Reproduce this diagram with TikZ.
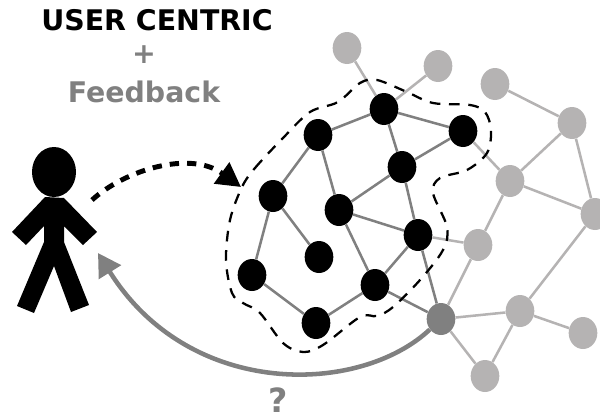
\documentclass[tikz,border=0pt]{standalone}
\usepackage{fontspec}
\setmainfont{DejaVu Sans}
\usetikzlibrary{shapes.geometric,arrows.meta}
\definecolor{midgray}{HTML}{808080}
\definecolor{lightgray}{HTML}{B5B3B3}
\tikzset{
  x=0.75pt,y=-0.75pt,
  basenode/.style={ellipse,minimum width=21.5pt,minimum height=24pt,inner sep=0pt,draw=none},
  blacknode/.style={basenode,fill=black},
  lightnode/.style={basenode,fill=lightgray},
  darknode/.style={basenode,fill=midgray},
  darkedge/.style={draw=midgray,line width=1.9pt},
  lightedge/.style={draw=lightgray,line width=1.9pt},
  titletext/.style={font=\bfseries\fontsize{21.3pt}{23pt}\selectfont,inner sep=0pt},
  marktext/.style={font=\bfseries\fontsize{25pt}{27pt}\selectfont,inner sep=0pt},
}
\begin{document}
\begin{tikzpicture}
\useasboundingbox (0,0) rectangle (600,418);
% titles
\node[titletext,text=black] (t1) at (157,20) {USER CENTRIC};
\node[titletext,text=midgray] (t2) at (144,55) {+};
\node[titletext,text=midgray] (t3) at (144,92) {Feedback};
\node[marktext,text=midgray] (t4) at (278,400) {?};
% person
\fill[black] (54,172) ellipse [x radius=22,y radius=25];
\fill[black] (45,197) -- (12,232) -- (26,245) -- (44,226) -- (44,242) -- (17,306) -- (34,313) -- (54,266) -- (71,312) -- (89,305) -- (64,242) -- (64,226) -- (83,245) -- (97,232) -- (64,198) -- cycle;
% nodes
\node[blacknode] (a) at (384,109) {};
\node[blacknode] (b) at (318,135) {};
\node[blacknode] (c) at (463,131) {};
\node[blacknode] (d) at (402,167) {};
\node[blacknode] (e) at (273,196) {};
\node[blacknode] (f) at (339,210) {};
\node[blacknode] (g) at (418,235) {};
\node[blacknode] (h) at (319,257) {};
\node[blacknode] (i) at (252,275) {};
\node[blacknode] (j) at (375,285) {};
\node[blacknode] (k) at (316,323) {};
\node[lightnode] (l1) at (347,48) {};
\node[lightnode] (l2) at (438,66) {};
\node[lightnode] (l3) at (495,84) {};
\node[lightnode] (l4) at (572,123) {};
\node[lightnode] (l5) at (510,181) {};
\node[lightnode] (l6) at (595,214) {};
\node[lightnode] (l7) at (478,245) {};
\node[lightnode] (l8) at (520,311) {};
\node[lightnode] (l9) at (583,333) {};
\node[lightnode] (l10) at (485,376) {};
\node[darknode] (m) at (441,319) {};
% edges
\foreach \p/\q in {a/l1,a/l2,c/l5,g/l7,l3/l4,l4/l5,l4/l6,l5/l6,l5/l7,l7/m,l6/l8,m/l8,l8/l9,l8/l10,m/l10}
  \draw[lightedge] (\p) -- (\q);
\foreach \p/\q in {a/b,a/c,a/d,c/d,b/e,b/f,d/f,d/g,f/g,f/j,e/h,e/i,i/k,k/j,j/g,j/m,g/m}
  \draw[darkedge] (\p) -- (\q);
% dashed contour
\draw[black,line width=1.7pt,dash pattern=on 8pt off 6.5pt] plot[smooth cycle,tension=0.55] coordinates {
 (242,187) (255,168) (283,138) (310,112) (338,102) (360,83) (377,80) (407,92) (433,103) (470,105) (485,112) (491,130) (487,153) (467,170) (440,178) (433,193) (447,227) (443,250) (420,280) (393,307) (377,316) (360,317) (323,345) (303,352) (283,343) (260,313) (243,303) (232,293) (226,260) (230,220)};
% arrows
\coordinate (pOut) at (92,200);
\coordinate (pIn) at (98,253);
\coordinate (cTip) at (241,187);
\draw[black,line width=3.7pt,dash pattern=on 7pt off 6pt,-{Triangle[length=18pt,width=19pt]}] (pOut) .. controls (125,170) and (190,150) .. (cTip);
\draw[midgray,line width=3.4pt,-{Triangle[length=17pt,width=19pt]}] (m) .. controls (360,395) and (190,400) .. (pIn);
\end{tikzpicture}
\end{document}
